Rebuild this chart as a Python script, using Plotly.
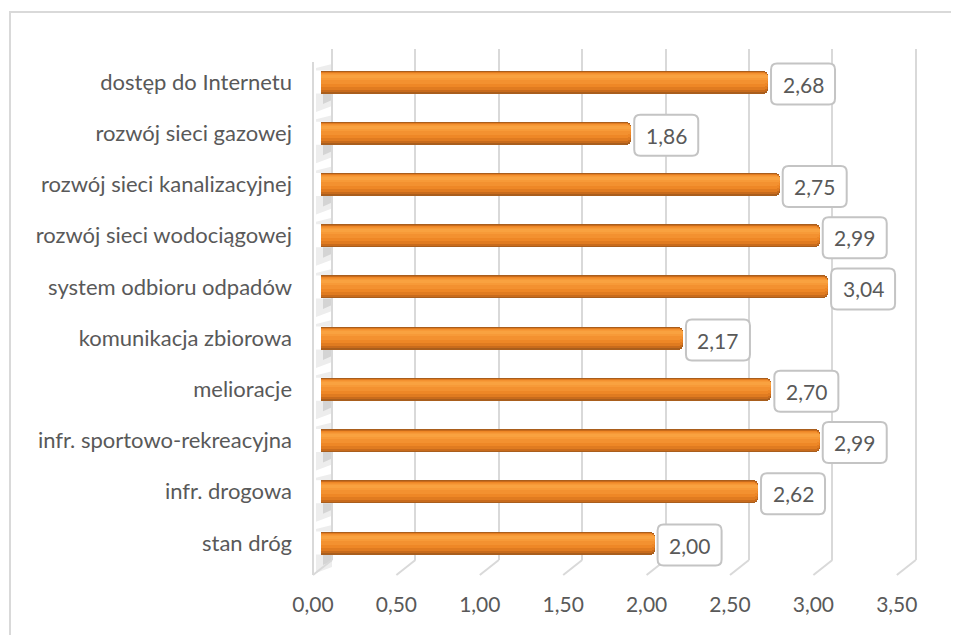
import plotly.graph_objects as go

categories = [
    "dostęp do Internetu",
    "rozwój sieci gazowej",
    "rozwój sieci kanalizacyjnej",
    "rozwój sieci wodociągowej",
    "system odbioru odpadów",
    "komunikacja zbiorowa",
    "melioracje",
    "infr. sportowo-rekreacyjna",
    "infr. drogowa",
    "stan dróg",
]
values = [2.68, 1.86, 2.75, 2.99, 3.04, 2.17, 2.70, 2.99, 2.62, 2.00]
tick_vals = [0, 0.5, 1.0, 1.5, 2.0, 2.5, 3.0, 3.5]
tick_text = ["0,00", "0,50", "1,00", "1,50", "2,00", "2,50", "3,00", "3,50"]
label_text = [f"{v:.2f}".replace(".", ",") for v in values]

# page body has an 8px margin, so the figure is drawn at (8, 8)
W, H = 951, 627
ML, MR, MT, MB = 305, 26, 41, 75
PW = W - ML - MR
PH = H - MT - MB
SCALE = 166.8  # px per unit
RNG = PW / SCALE
BAR_SHIFT = 8 / SCALE     # bars sit 8px right of front floor
GRID_SHIFT = 19 / SCALE   # back wall 19px right of front floor
Y_LO, Y_HI = -0.332, 9.645
PX_Y = PH / (Y_HI - Y_LO)

TXT = "#595959"
FONT = "Lato"

cat_order = list(reversed(categories))


def px(p):
    return p / PX_Y


def xpaper_bar(v):
    return (v + BAR_SHIFT) / RNG


def xpaper_front(v):
    return v / RNG


def xpaper_back(v):
    return (v + GRID_SHIFT) / RNG


def ypaper_cat(cat):
    return (cat_order.index(cat) - Y_LO) / (Y_HI - Y_LO)


def poly(pts):
    return "M " + " L ".join(f"{a},{b}" for a, b in pts) + " Z"


fig = go.Figure()

layers = [
    (-11.5, 11.5, "#A95E1D"),
    (-10.0, 10.5, "#C86B1C"),
    (-8.0, 10.0, "#E07B20"),
    (-5.0, 9.5, "#EE8726"),
    (-2.0, 9.0, "#F39130"),
    (2.0, 8.0, "#F79A38"),
    (4.0, 7.0, "#F9A240"),
]
for lo, hi, col in layers:
    fig.add_trace(go.Bar(
        x=values, y=categories, orientation="h",
        width=px(hi - lo), offset=px(lo),
        marker=dict(color=col, line=dict(width=0), cornerradius=5),
        xaxis="x", yaxis="y", hoverinfo="skip", showlegend=False,
    ))

# helper traces so the overlay axes render
fig.add_trace(go.Scatter(x=[0], y=[categories[-1]], mode="markers",
                         marker=dict(opacity=0), xaxis="x2", yaxis="y",
                         showlegend=False, hoverinfo="skip"))
fig.add_trace(go.Scatter(x=[0], y=[categories[-1]], mode="markers",
                         marker=dict(opacity=0), xaxis="x3", yaxis="y",
                         showlegend=False, hoverinfo="skip"))

shapes = []
annotations = []

# wall shading next to the base of each bar
for cat in categories:
    for pts, col in (
        ([(-5, -11.5), (11, -11.5), (11, -24), (-5, -30)], "#EDEDED"),
        ([(2, -11.5), (11, -11.5), (11, -18), (2, -22)], "#D4D4D4"),
        ([(-5, 11.5), (11, 11.5), (11, 18), (-5, 14)], "#EDEDED"),
    ):
        shapes.append(dict(type="path", xref="paper", yref="paper",
                           xsizemode="pixel", ysizemode="pixel",
                           xanchor=xpaper_bar(0), yanchor=ypaper_cat(cat),
                           path=poly(pts), line=dict(width=0),
                           fillcolor=col, layer="below"))

# data label boxes
BW, BH, R = 64, 41, 6
for cat, v, t in zip(categories, values, label_text):
    x0, x1 = 3, 3 + BW
    y0, y1 = -BH / 2 - 2, BH / 2 - 2
    path = (f"M {x0+R},{y0} L {x1-R},{y0} Q {x1},{y0} {x1},{y0+R} "
            f"L {x1},{y1-R} Q {x1},{y1} {x1-R},{y1} L {x0+R},{y1} "
            f"Q {x0},{y1} {x0},{y1-R} L {x0},{y0+R} Q {x0},{y0} {x0+R},{y0} Z")
    shapes.append(dict(type="path", xref="paper", yref="paper",
                       xsizemode="pixel", ysizemode="pixel",
                       xanchor=xpaper_bar(v), yanchor=ypaper_cat(cat),
                       path=path,
                       line=dict(color="#C4C4C4", width=2),
                       fillcolor="white", layer="above"))
    annotations.append(dict(x=v, y=cat, xref="x", yref="y", text=t,
                            showarrow=False, xanchor="center",
                            xshift=3 + BW / 2, yshift=-2,
                            font=dict(family=FONT, size=21, color=TXT)))

# floor diagonals from back wall to front edge, per tick
floor_bot = -15 / PH
for v in tick_vals:
    shapes.append(dict(type="line", xref="paper", yref="paper",
                       x0=xpaper_back(v), x1=xpaper_front(v),
                       y0=0, y1=floor_bot,
                       line=dict(color="#D9D9D9", width=2), layer="below"))
# front-left wall edge
shapes.append(dict(type="line", xref="paper", yref="paper",
                   x0=xpaper_front(0), x1=xpaper_front(0),
                   y0=1 - 13 / PH, y1=floor_bot,
                   line=dict(color="#D9D9D9", width=2), layer="below"))
# chart border
shapes.append(dict(type="rect", xref="paper", yref="paper",
                   x0=(2 - ML) / PW, x1=(W + 20 - ML) / PW,
                   y0=-(MB + 20) / PH, y1=1 + (MT - 4) / PH,
                   line=dict(color="#D9D9D9", width=2), layer="below"))

fig.update_layout(
    width=W, height=H,
    margin=dict(l=ML, r=MR, t=MT, b=MB, pad=0),
    paper_bgcolor="white", plot_bgcolor="rgba(0,0,0,0)",
    barmode="overlay", bargap=0,
    font=dict(family=FONT, color=TXT, size=21),
    xaxis=dict(range=[-BAR_SHIFT, RNG - BAR_SHIFT], showgrid=False,
               showticklabels=False, zeroline=False, showline=False),
    xaxis2=dict(range=[-GRID_SHIFT, RNG - GRID_SHIFT], overlaying="x",
                showgrid=True, gridcolor="#D9D9D9", gridwidth=2,
                tickvals=tick_vals, showticklabels=False, zeroline=False,
                showline=False, anchor="y"),
    xaxis3=dict(range=[0, RNG], overlaying="x", showgrid=False,
                tickvals=tick_vals, ticktext=tick_text, ticks="",
                ticklabelstandoff=30, zeroline=False, showline=False,
                anchor="y", side="bottom",
                tickfont=dict(family=FONT, size=21, color=TXT)),
    yaxis=dict(range=[Y_LO, Y_HI], categoryorder="array",
               categoryarray=cat_order, showgrid=False, zeroline=False,
               showline=False, ticks="", ticklabelstandoff=20,
               tickfont=dict(family=FONT, size=22, color=TXT)),
    shapes=shapes, annotations=annotations,
)

fig.write_html("out.html")
